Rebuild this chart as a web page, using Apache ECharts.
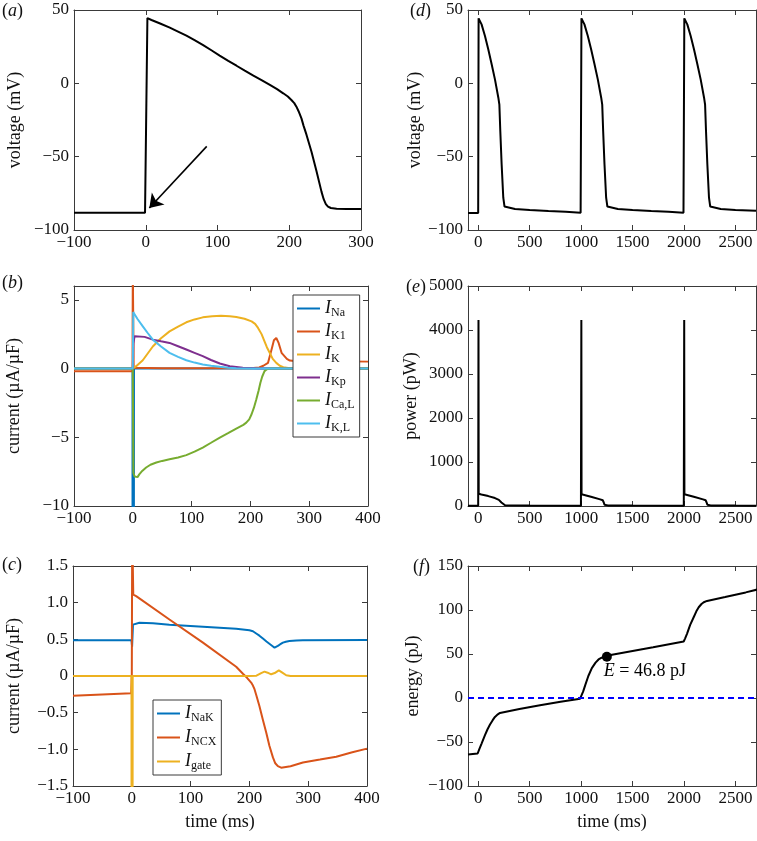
<!DOCTYPE html>
<html>
<head>
<meta charset="utf-8">
<script src="https://cdn.jsdelivr.net/npm/echarts@6/dist/echarts.min.js"></script>
<style>
html, body { margin: 0; padding: 0; background: #fff; }
#chart { width: 757px; height: 841px; }
</style>
</head>
<body>
<div id="chart"></div>
<script>
// ---- data ----
// (a) single action potential, [time ms, voltage mV]
var apSingle = [[-100,-88.3],[-1,-88.3],[0,-88.3],[2.3,44.5],[8,43.2],[20,40.8],[33.5,38],[45,35.3],[56.7,32.5],[68,29.5],[80,26.1],[92,22.4],[103,18.9],[115,15.3],[126.5,12],[138,8.6],[150,5.2],[162,2],[173,-1.1],[183,-4],[191.6,-6.8],[198,-9],[203,-11.4],[207,-13.5],[210,-15.9],[213,-19],[217,-23.9],[220,-29],[224,-35],[231,-46.6],[238,-60],[245,-74],[248,-79],[251,-82.3],[254,-84],[258,-85],[266,-85.5],[280,-85.6],[300,-85.7]];
var arrowFrom = [85, -43];
var arrowTo = [5, -85];

// (b) currents, [time ms, uA/uF]
var iNa  = [[-100,0],[-0.5,0],[0,-150],[1,-150],[2,0],[400,0]];
var iK1  = [[-100,-0.2],[-0.5,-0.2],[0,7],[0.8,7],[1.5,0.05],[50,0.01],[200,0.02],[215,0.08],[222,0.2],[230,0.41],[236,1.38],[240,2.05],[244,2.22],[248,1.86],[253,1.14],[256,1.0],[262,0.7],[267,0.58],[275,0.55],[300,0.55],[400,0.5]];
var iK   = [[-100,0],[0,0],[5.7,0.17],[17,0.6],[34,1.6],[48,2.2],[62.5,2.7],[77,3.05],[91,3.36],[105,3.57],[119,3.72],[135,3.8],[150,3.84],[165,3.8],[176,3.74],[190,3.62],[202,3.43],[208,3.25],[213,2.95],[219,2.5],[224,1.98],[228,1.55],[233,1.13],[238,0.7],[244,0.41],[250,0.2],[256,0.1],[267,0.02],[280,0],[400,0]];
var iKp  = [[-100,0],[0,0],[1,1.8],[3,2.35],[6,2.47],[20,2.3],[34,2.1],[48,1.98],[62.5,1.86],[77,1.62],[91,1.38],[105,1.14],[119,0.9],[133,0.62],[148,0.36],[165,0.17],[187,0.05],[210,0.01],[230,0],[400,0]];
var iCaL = [[-100,0],[0,0],[1,-7.6],[3,-7.85],[5.7,-7.95],[8,-7.9],[11,-7.7],[16,-7.45],[22.7,-7.2],[30,-7.0],[40,-6.84],[50,-6.72],[62.5,-6.6],[77,-6.47],[91,-6.3],[105,-6.05],[119,-5.75],[133,-5.4],[148,-5.02],[162,-4.7],[176,-4.37],[188,-4.1],[193,-3.94],[198,-3.7],[202,-3.33],[206,-2.85],[210,-2.25],[214,-1.6],[217,-1.04],[220,-0.6],[224,-0.19],[228,-0.05],[233,0],[400,0]];
var iKL  = [[-100,0],[0,0],[0.8,4.1],[3,3.95],[8,3.6],[17,3.07],[25,2.6],[34,2.1],[48,1.6],[62.5,1.14],[77,0.85],[91,0.6],[105,0.43],[119,0.29],[133,0.2],[148,0.12],[162,0.06],[176,0.02],[200,0],[400,0]];

// (c) pump / exchanger / gating currents
var iNaK  = [[-100,0.486],[-0.5,0.486],[0.5,0.4],[2,0.7],[13,0.727],[36,0.718],[64,0.7],[121,0.673],[177.5,0.645],[200,0.623],[206,0.61],[211.6,0.58],[217,0.55],[223,0.51],[229,0.47],[234,0.44],[239,0.41],[242.8,0.386],[245,0.388],[248.4,0.41],[252,0.43],[257,0.455],[262,0.468],[268,0.477],[280,0.483],[291,0.486],[400,0.49]];
var iNCX  = [[-100,-0.27],[-1,-0.236],[0,0],[0.7,2],[1.5,2],[2.5,1.11],[7.4,1.09],[64,0.77],[121,0.455],[177.5,0.127],[189,0.03],[196,-0.025],[203,-0.09],[206,-0.13],[208.7,-0.18],[212,-0.27],[217,-0.41],[223,-0.6],[228.6,-0.77],[234,-0.95],[240,-1.11],[244,-1.19],[248.4,-1.23],[254,-1.25],[270,-1.23],[291,-1.18],[320,-1.14],[347.7,-1.1],[375,-1.04],[400,-0.99]];
var iGate = [[-100,0],[-0.5,0],[0,-20],[1,-20],[1.5,0],[200,0],[212,0.005],[220,0.04],[225.7,0.06],[231,0.045],[237,0.023],[243,0.04],[250,0.077],[256,0.045],[262.6,0.01],[270,0],[400,0]];

// (d) voltage, three beats
var vTrain = [[-100,-88.4],[-1,-88.4],[0,-88.2],[3,44.3],[32,40.2],[65,32.3],[97,23.2],[130,13],[162,2.7],[195,-9.8],[205,-14.5],[214,-32.5],[227,-55.2],[243,-78],[255,-84],[270,-84.8],[357,-85.7],[500,-86.3],[682,-87],[850,-87.6],[995,-88.2],
  [1000,-88.2],[1003,44.3],[1032,40.2],[1065,32.3],[1097,23.2],[1130,13],[1162,2.7],[1195,-9.8],[1205,-14.5],[1214,-32.5],[1227,-55.2],[1243,-78],[1255,-84],[1270,-84.8],[1357,-85.7],[1500,-86.3],[1682,-87],[1850,-87.6],[1995,-88.2],
  [2000,-88.2],[2003,44.3],[2032,40.2],[2065,32.3],[2097,23.2],[2130,13],[2162,2.7],[2195,-9.8],[2205,-14.5],[2214,-32.5],[2227,-55.2],[2243,-78],[2255,-84],[2270,-84.8],[2357,-85.7],[2500,-86.3],[2700,-86.9]];

// (e) power, pW
var powerTrain = [[-100,8],[-1,8],[0,8],[2,4230],[4,280],[30,260],[97,225],[162,180],[200,140],[211,128],[225,80],[234,38],[260,15],[500,10],[998,8],
  [1000,8],[1002,4230],[1004,265],[1040,245],[1104,204],[1185,151],[1210,130],[1220,80],[1227,30],[1260,14],[1500,10],[1998,8],
  [2000,8],[2002,4230],[2004,265],[2040,245],[2104,204],[2185,151],[2210,130],[2220,80],[2227,30],[2260,14],[2500,10],[2700,8]];

// (f) cumulative energy, pJ
var energy = [[-100,-64.2],[-6,-63.1],[10,-58],[32,-51.8],[65,-42.3],[90,-35.5],[114,-30.2],[140,-25.2],[162,-21.5],[190,-18.6],[211,-17],[227,-16.2],[400,-12.6],[600,-8.3],[800,-4.2],[990,-0.8],[1000,0],[1020,7.5],[1039,14.4],[1070,25],[1104,34],[1140,40.2],[1169,43.8],[1200,45.8],[1250,47.1],[1300,49.1],[1500,53.4],[1700,57.7],[1997,64.2],[2010,67.5],[2029,72.9],[2060,83],[2094,91.8],[2120,98.5],[2143,103.1],[2170,106.8],[2192,108.8],[2224,110.3],[2400,114.8],[2600,120],[2711,123.2]];
var energyMark = [1250, 46.8];

// tick values
var tickTimeShort = [-100, 0, 100, 200, 300];
var tickTimeMid = [-100, 0, 100, 200, 300, 400];
var tickTimeLong = [0, 500, 1000, 1500, 2000, 2500];
var tickVoltage = [-100, -50, 0, 50];
var tickCurrentB = [-10, -5, 0, 5];
var tickCurrentC = [-1.5, -1, -0.5, 0, 0.5, 1, 1.5];
var tickPower = [0, 1000, 2000, 3000, 4000, 5000];
var tickEnergy = [-100, -50, 0, 50, 100, 150];

var FONT = 'Liberation Serif';
var AX = '#3a3a3a';
var C = ['#0072BD', '#D95319', '#EDB120', '#7E2F8E', '#77AC30', '#4DBEEE'];

function minusFmt(v) {
    return v < 0 ? '\u2212' + Math.abs(v) : String(v);
}
function decFmt(v) {
    if (v === 0) return '0';
    return (v < 0 ? '\u2212' : '') + Math.abs(v).toFixed(1);
}

var grids = [], xAxes = [], yAxes = [], series = [];

function panel(box, xr, xt, yr, yt, yname, ygap, xname, yfmt) {
    var gi = grids.length;
    grids.push({left: box[0], top: box[1], width: box[2], height: box[3], containLabel: false});
    var xi = xAxes.length, yi = yAxes.length;
    var base = function (ticks, show, fmt) {
        return {
            axisLine: {show: true, onZero: false, lineStyle: {color: AX, width: 1}},
            axisTick: {show: true, inside: true, length: 5, lineStyle: {color: AX}, customValues: ticks},
            axisLabel: {show: show, customValues: ticks, formatter: fmt, color: '#111', fontFamily: FONT, fontSize: 17},
            splitLine: {show: false}
        };
    };
    var xb = Object.assign({type: 'value', gridIndex: gi, position: 'bottom', min: xr[0], max: xr[1]}, base(xt, true, minusFmt));
    xb.axisLabel.margin = 4;
    if (xname) {
        xb.name = xname; xb.nameLocation = 'middle'; xb.nameGap = 27;
        xb.nameTextStyle = {fontFamily: FONT, fontSize: 18, color: '#111'};
    }
    var xt2 = Object.assign({type: 'value', gridIndex: gi, position: 'top', min: xr[0], max: xr[1]}, base(xt, false, minusFmt));
    var yl = Object.assign({type: 'value', gridIndex: gi, position: 'left', min: yr[0], max: yr[1],
        name: yname, nameLocation: 'middle', nameGap: ygap, nameRotate: 90,
        nameTextStyle: {fontFamily: FONT, fontSize: 18, color: '#111'}}, base(yt, true, yfmt || minusFmt));
    yl.axisLabel.margin = 5;
    var yr2 = Object.assign({type: 'value', gridIndex: gi, position: 'right', min: yr[0], max: yr[1]}, base(yt, false, minusFmt));
    xAxes.push(xb, xt2);
    yAxes.push(yl, yr2);
    return {x: xi, y: yi};
}

function line(ax, name, data, color, extra) {
    var s = {
        type: 'line', name: name, xAxisIndex: ax.x, yAxisIndex: ax.y, data: data,
        symbol: 'none', showSymbol: false, clip: true, animation: false,
        lineStyle: {color: color, width: 2}, itemStyle: {color: color}
    };
    series.push(Object.assign(s, extra || {}));
}

var pa = panel([74, 10, 287, 220], [-100, 300], tickTimeShort, [-100, 50], tickVoltage, 'voltage (mV)', 50);
var pb = panel([74, 286, 294, 220], [-100, 400], tickTimeMid, [-10, 6], tickCurrentB, 'current (\u00b5A/\u00b5F)', 51);
var pc = panel([73, 566, 294, 220], [-100, 400], tickTimeMid, [-1.5, 1.5], tickCurrentC, 'current (\u00b5A/\u00b5F)', 50, 'time (ms)', decFmt);
var pd = panel([468, 10, 288, 220], [-100, 2700], tickTimeLong, [-100, 50], tickVoltage, 'voltage (mV)', 44);
var pe = panel([468, 286, 288, 220], [-100, 2700], tickTimeLong, [0, 5000], tickPower, 'power (pW)', 48);
var pf = panel([468, 566, 288, 220], [-100, 2700], tickTimeLong, [-100, 150], tickEnergy, 'energy (pJ)', 46, 'time (ms)');

line(pa, 'V', apSingle, '#000', {
    markLine: {
        silent: true, symbol: ['none', 'arrow'], symbolSize: 13, label: {show: false},
        lineStyle: {color: '#000', width: 1.6, type: 'solid'},
        data: [[{coord: arrowFrom}, {coord: arrowTo}]]
    }
});

line(pb, 'I_Na', iNa, C[0]);
line(pb, 'I_K1', iK1, C[1]);
line(pb, 'I_K', iK, C[2]);
line(pb, 'I_Kp', iKp, C[3]);
line(pb, 'I_Ca,L', iCaL, C[4]);
line(pb, 'I_K,L', iKL, C[5]);

line(pc, 'I_NaK', iNaK, C[0]);
line(pc, 'I_NCX', iNCX, C[1]);
line(pc, 'I_gate', iGate, C[2]);

line(pd, 'Vtrain', vTrain, '#000');
line(pe, 'P', powerTrain, '#000');
line(pf, 'E', energy, '#000', {
    markLine: {
        silent: true, symbol: 'none', label: {show: false},
        lineStyle: {color: '#0000ff', width: 2, type: [6, 4]},
        data: [{yAxis: 0}]
    }
});
series.push({
    type: 'scatter', xAxisIndex: pf.x, yAxisIndex: pf.y, data: [energyMark],
    symbolSize: 10, itemStyle: {color: '#000', opacity: 1}, animation: false, z: 5,
    label: {
        show: true, position: [2, 10], align: 'left', verticalAlign: 'top',
        formatter: '{e|E} = 46.8 pJ', color: '#000', fontFamily: FONT, fontSize: 18,
        rich: {e: {fontStyle: 'italic', fontFamily: FONT, fontSize: 18, color: '#000'}}
    }
});

var legendRich = {
    i: {fontStyle: 'italic', fontFamily: FONT, fontSize: 18, color: '#111', lineHeight: 20},
    s: {fontFamily: FONT, fontSize: 12, color: '#111', lineHeight: 20, padding: [9, 0, 0, 0]}
};
function legendFmt(name) {
    return '{i|I}{s|' + name.split('_')[1] + '}';
}
function legendBox(names, left, top, gap) {
    return {
        data: names, orient: 'vertical', left: left, top: top,
        padding: [3, 5, 3, 4], itemGap: gap, itemWidth: 23, itemHeight: 2,
        icon: 'rect',
        borderColor: AX, borderWidth: 1, backgroundColor: '#fff',
        selectedMode: false, formatter: legendFmt,
        textStyle: {rich: legendRich, fontFamily: FONT}
    };
}

var labels = [['a', 2, 2], ['b', 2, 274], ['c', 2, 556], ['d', 410, 2], ['e', 406, 278], ['f', 413, 558]];

var option = {
    backgroundColor: '#fff',
    animation: false,
    grid: grids,
    xAxis: xAxes,
    yAxis: yAxes,
    legend: [
        legendBox(['I_Na', 'I_K1', 'I_K', 'I_Kp', 'I_Ca,L', 'I_K,L'], 293, 295, 2),
        legendBox(['I_NaK', 'I_NCX', 'I_gate'], 153, 700, 3)
    ],
    graphic: labels.map(function (l) {
        return {
            type: 'text', left: l[1], top: l[2], z: 10,
            style: {
                text: '({it|' + l[0] + '})', fill: '#111', font: '18px "Liberation Serif"',
                rich: {it: {fontStyle: 'italic', fontFamily: FONT, fontSize: 18, fill: '#111'}}
            }
        };
    }),
    series: series
};

var chart = echarts.init(document.getElementById('chart'), null, {renderer: 'canvas'});
chart.setOption(option);
</script>
</body>
</html>
